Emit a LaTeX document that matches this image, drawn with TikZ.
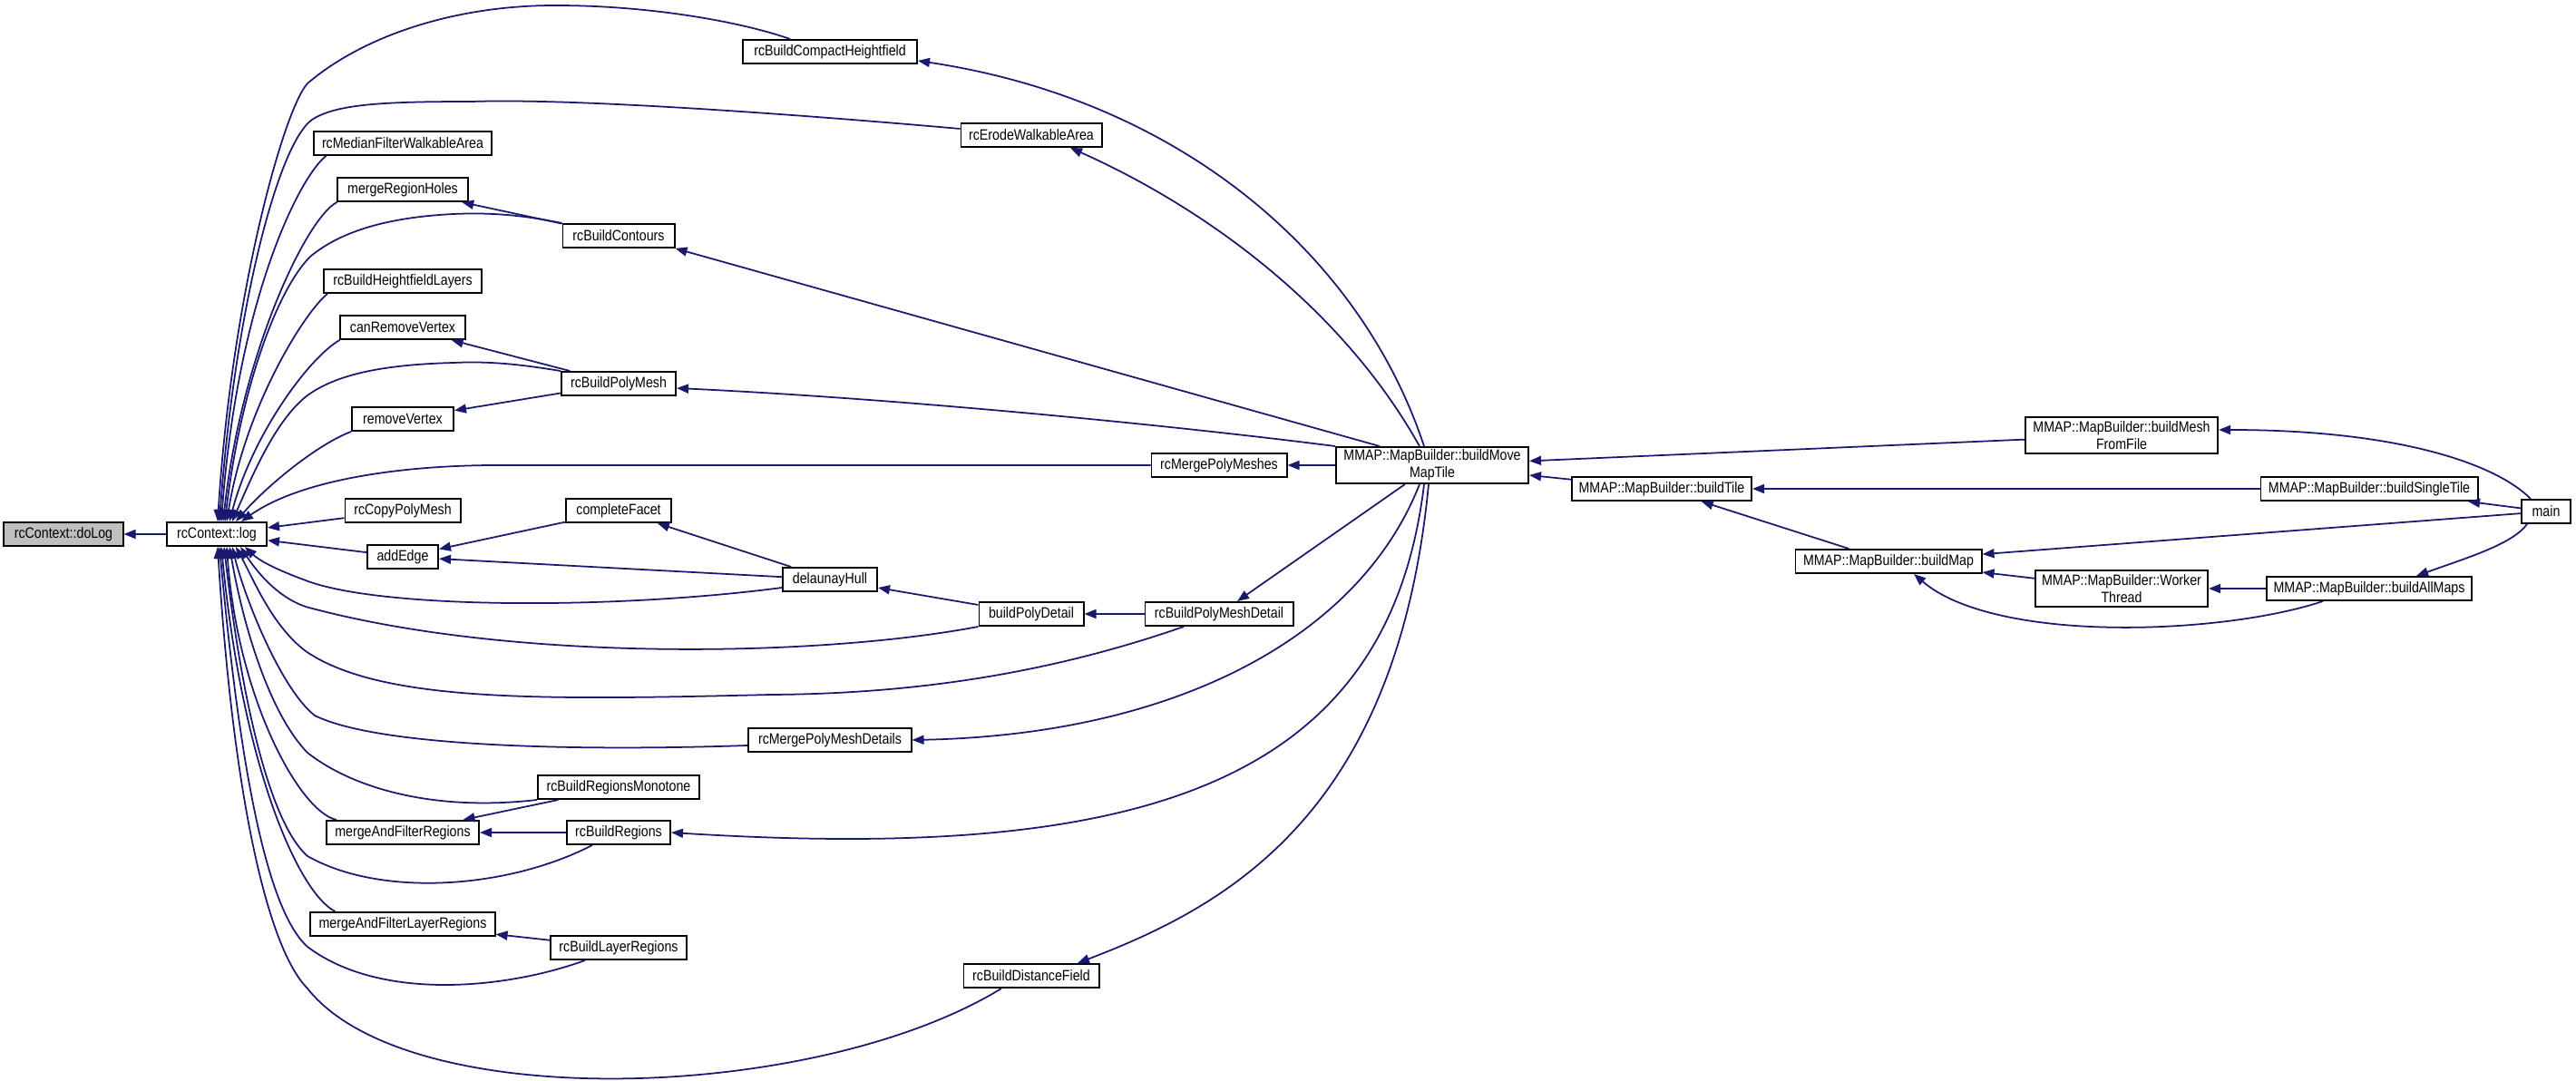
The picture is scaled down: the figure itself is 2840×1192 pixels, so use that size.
\documentclass[tikz,border=0pt]{standalone}
\usepackage{fontspec}
\newfontfamily\graphfont{Liberation Sans}[FakeStretch=0.86]
\usetikzlibrary{arrows.meta, calc}
\definecolor{EB}{RGB}{25,25,112}
\definecolor{NG}{RGB}{191,191,191}

\begin{document}
\begin{tikzpicture}[
  x=0.01cm, y=-0.01cm,
  fn/.style={draw=black, fill=white, line width=0.55pt, minimum width=#1,
             minimum height=0.26cm, inner sep=0pt,
             font=\graphfont\fontsize{4.7}{4.1}\selectfont},
  fn2/.style={fn=#1, minimum height=0.40cm, align=center},
  call/.style={-{Triangle[length=0.13cm, width=0.10cm]}, draw=EB, line width=0.5pt}
]
\useasboundingbox (0,0) rectangle (2840,1192);

% Functions, left columns
\node[fn=1.31cm, fill=NG] (doLog) at (70,589)  {rcContext::doLog};
\node[fn=1.10cm] (log)   at (239,589)  {rcContext::log};
\node[fn=1.95cm] (mfwa)  at (444,158)  {rcMedianFilterWalkableArea};
\node[fn=1.43cm] (mrh)   at (444,209)  {mergeRegionHoles};
\node[fn=1.74cm] (hfl)   at (444,310)  {rcBuildHeightfieldLayers};
\node[fn=1.37cm] (crv)   at (444,361)  {canRemoveVertex};
\node[fn=1.12cm] (rv)    at (444,462)  {removeVertex};
\node[fn=1.27cm] (cpm)   at (444,563)  {rcCopyPolyMesh};
\node[fn=0.78cm] (ae)    at (444,614)  {addEdge};
\node[fn=1.68cm] (mafr)  at (444,918)  {mergeAndFilterRegions};
\node[fn=2.03cm] (maflr) at (444,1019) {mergeAndFilterLayerRegions};
\node[fn=1.23cm] (cont)  at (682,260)  {rcBuildContours};
\node[fn=1.26cm] (pm)    at (682,423)  {rcBuildPolyMesh};
\node[fn=1.16cm] (cf)    at (682,563)  {completeFacet};
\node[fn=1.78cm] (mono)  at (682,868)  {rcBuildRegionsMonotone};
\node[fn=1.14cm] (reg)   at (682,918)  {rcBuildRegions};
\node[fn=1.49cm] (lr)    at (682,1045) {rcBuildLayerRegions};

% Functions, middle columns
\node[fn=1.92cm] (chf)  at (915,57)    {rcBuildCompactHeightfield};
\node[fn=1.04cm] (dh)   at (915,639)   {delaunayHull};
\node[fn=1.79cm] (mpmd) at (915,816)   {rcMergePolyMeshDetails};
\node[fn=1.55cm] (ew)   at (1137,149)  {rcErodeWalkableArea};
\node[fn=1.15cm] (bpd)  at (1137,677)  {buildPolyDetail};
\node[fn=1.49cm] (df)   at (1137,1076) {rcBuildDistanceField};
\node[fn=1.49cm] (mpm)  at (1344,513)  {rcMergePolyMeshes};
\node[fn=1.63cm] (pmd)  at (1344,677)  {rcBuildPolyMeshDetail};
\node[fn2=2.12cm] (bm)  at (1579,513)  {MMAP::MapBuilder::buildMove\\MapTile};

% Functions, right columns
\node[fn=1.98cm] (bt)    at (1832,539) {MMAP::MapBuilder::buildTile};
\node[fn=2.05cm] (bmap)  at (2082,619) {MMAP::MapBuilder::buildMap};
\node[fn2=2.12cm] (bmff) at (2339,480) {MMAP::MapBuilder::buildMesh\\FromFile};
\node[fn2=1.90cm] (wt)   at (2339,649) {MMAP::MapBuilder::Worker\\Thread};
\node[fn=2.39cm] (bst)   at (2612,539) {MMAP::MapBuilder::buildSingleTile};
\node[fn=2.26cm] (bam)   at (2612,649) {MMAP::MapBuilder::buildAllMaps};
\node[fn=0.54cm] (main)  at (2807,564) {main};

% Calls into rcContext::log, from above
\draw[call] ($(chf.north)+(-44,0)$) .. controls (820,25) and (720,6) .. (612,6)
  .. controls (500,6) and (400,40) .. (339,92)
  .. controls (312,122) and (255,330) .. ($(log.north)+(1,0)$);
\draw[call] ($(ew.west)+(0,-7)$) .. controls (900,128) and (640,108) .. (520,112)
  .. controls (420,112) and (370,115) .. (344,132)
  .. controls (305,160) and (258,350) .. ($(log.north)+(3,0)$);
\draw[call] ($(mfwa.south west)+(14,0)$) .. controls (330,195) and (262,330) .. ($(log.north)+(5,0)$);
\draw[call] (mrh.south west) .. controls (338,240) and (266,390) .. ($(log.north)+(7,0)$);
\draw[call] (cont.north west) .. controls (580,238) and (545,234) .. (500,236)
  .. controls (420,240) and (372,258) .. (342,283)
  .. controls (305,320) and (265,430) .. ($(log.north)+(9,0)$);
\draw[call] ($(hfl.south west)+(5,0)$) .. controls (335,345) and (270,450) .. ($(log.north)+(11,0)$);
\draw[call] (crv.south west) .. controls (340,395) and (278,480) .. ($(log.north)+(14,0)$);
\draw[call] (pm.north west) .. controls (575,402) and (540,398) .. (500,400)
  .. controls (425,402) and (372,412) .. (339,436)
  .. controls (305,462) and (280,520) .. ($(log.north)+(17,0)$);
\draw[call] (rv.south west) .. controls (350,490) and (295,535) .. ($(log.north)+(21,0)$);
\draw[call] (mpm.west) -- (560,513) .. controls (440,512) and (330,530) .. ($(log.north)+(27,0)$);
\draw[call] (cpm) -- (log);
\draw[call] (ae) -- (log);

% Calls into rcContext::log, from below
\draw[call] ($(dh.west)+(0,9)$) .. controls (680,672) and (420,672) .. (337,640)
  .. controls (310,630) and (288,620) .. ($(log.south)+(31,0)$);
\draw[call] (bpd.south west) .. controls (900,725) and (560,730) .. (337,669)
  .. controls (305,658) and (283,630) .. ($(log.south)+(26,0)$);
\draw[call] ($(pmd.south)+(-39,0)$) .. controls (1150,745) and (1000,765) .. (850,766)
  .. controls (600,772) and (420,775) .. (337,718)
  .. controls (300,690) and (280,640) .. ($(log.south)+(21,0)$);
\draw[call] ($(mpmd.west)+(0,6)$) .. controls (650,828) and (420,825) .. (347,789)
  .. controls (310,760) and (270,660) .. ($(log.south)+(17,0)$);
\draw[call] (mono.south west) .. controls (480,895) and (390,870) .. (339,830)
  .. controls (300,790) and (270,700) .. ($(log.south)+(14,0)$);
\draw[call] ($(mafr.north west)+(12,0)$) .. controls (330,895) and (262,770) .. ($(log.south)+(11,0)$);
\draw[call] ($(reg.south)+(-29,0)$) .. controls (560,980) and (420,990) .. (339,944)
  .. controls (295,905) and (265,760) .. ($(log.south)+(8,0)$);
\draw[call] ($(maflr.north west)+(28,0)$) .. controls (330,985) and (268,850) .. ($(log.south)+(5,0)$);
\draw[call] ($(lr.south)+(-37,0)$) .. controls (560,1090) and (420,1105) .. (339,1044)
  .. controls (290,1000) and (262,820) .. ($(log.south)+(3,0)$);
\draw[call] ($(df.south)+(-33,0)$) .. controls (900,1215) and (450,1230) .. (339,1090)
  .. controls (290,1040) and (255,850) .. ($(log.south)+(1,0)$);

% Other calls on the left
\draw[call] (log) -- (doLog);
\draw[call] (cont) -- (mrh);
\draw[call] (pm) -- (crv);
\draw[call] (pm) -- (rv);
\draw[call] (dh) -- (cf);
\draw[call] (cf) -- (ae);
\draw[call] (dh) -- (ae);
\draw[call] (bpd) -- (dh);
\draw[call] (pmd) -- (bpd);
\draw[call] (mono) -- (mafr);
\draw[call] (reg) -- (mafr);
\draw[call] (lr) -- (maflr);

% Calls from buildMoveMapTile
\draw[call] ($(bm.north)+(-9,0)$) .. controls (1500,280) and (1300,110) .. ($(chf.east)+(0,10)$);
\draw[call] ($(bm.north)+(-14,0)$) .. controls (1480,340) and (1330,230) .. ($(ew.south)+(43,0)$);
\draw[call] ($(bm.north west)+(49,0)$) -- (cont.south east);
\draw[call] (bm.north west) .. controls (1300,470) and (1000,440) .. ($(pm.east)+(0,5)$);
\draw[call] (bm) -- (mpm);
\draw[call] (bm) -- (pmd);
\draw[call] ($(bm.south)+(-14,0)$) .. controls (1500,700) and (1300,810) .. (mpmd.east);
\draw[call] ($(bm.south)+(-9,0)$) .. controls (1530,870) and (1250,950) .. (reg.east);
\draw[call] ($(bm.south)+(-4,0)$) .. controls (1540,900) and (1350,1000) .. ($(df.north)+(51,0)$);

% Calls on the right
\draw[call] (bmff) -- (bm);
\draw[call] (bt) -- (bm);
\draw[call] (bst) -- (bt);
\draw[call] (bmap) -- (bt);
\draw[call] (wt) -- (bmap);
\draw[call] (bam) -- (wt);
\draw[call] ($(bam.south)+(-51,0)$) .. controls (2450,700) and (2200,710) .. ($(bmap.south)+(28,0)$);
\draw[call] ($(main.north)+(-17,0)$) .. controls (2750,510) and (2640,474) .. ($(bmff.east)+(0,-6)$);
\draw[call] (main) -- (bst);
\draw[call] (main) -- (bmap);
\draw[call] ($(main.south)+(-21,0)$) .. controls (2770,600) and (2720,615) .. ($(bam.north)+(52,0)$);
\end{tikzpicture}
\end{document}
